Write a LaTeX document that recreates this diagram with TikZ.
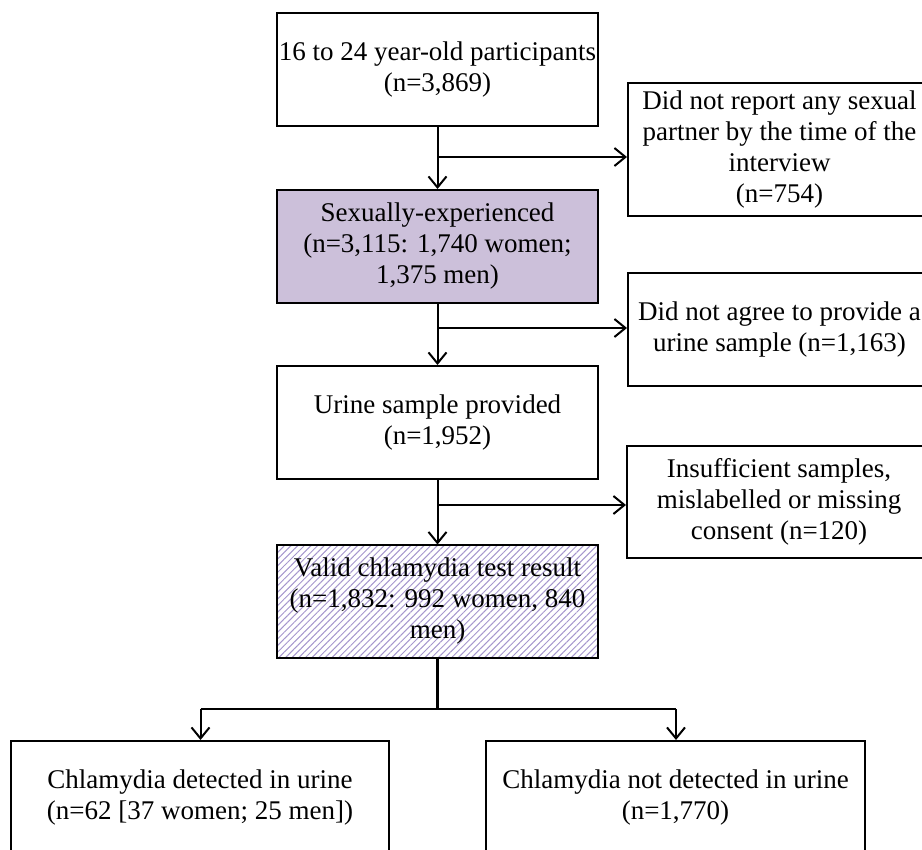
\documentclass[tikz,border=0pt]{standalone}
\usepackage{fontspec}
\setmainfont{Liberation Serif}
\usetikzlibrary{arrows.meta,patterns.meta}
\definecolor{lavender}{RGB}{204,192,218}
\definecolor{hatchcol}{RGB}{165,150,205}
\tikzset{
  box/.style={draw=black, line width=2pt, align=center, inner sep=0pt,
    font=\fontsize{27}{31}\selectfont},
  link/.style={line width=2pt},
  arr/.style={line width=2pt, -{Straight Barb[length=11pt,width=18pt,line width=2pt]}},
}
\begin{document}
\begin{tikzpicture}[x=1pt,y=-1pt]
\useasboundingbox (0,0) rectangle (922,850);
% main column
\node[box, minimum width=321pt, minimum height=113pt] (b1) at (437.5,69.5)
  {16 to 24 year-old participants\\(n=3,869)};
\node[box, fill=lavender, minimum width=321pt, minimum height=113pt] (b2) at (437.5,246.5)
  {Sexually-experienced\\(n=3,115: 1,740 women;\\1,375 men)};
\node[box, minimum width=321pt, minimum height=113pt] (b3) at (437.5,422.5)
  {Urine sample provided\\(n=1,952)};
\node[box, pattern={Lines[angle=45,distance=4.7pt,line width=1pt]}, pattern color=hatchcol,
  minimum width=321pt, minimum height=113pt] (b4) at (437.5,601.5) {};
\node[font=\fontsize{27}{31}\selectfont, align=center] (b4t) at (b4.center)
  {Valid chlamydia test result\\(n=1,832: 992 women, 840\\men)};
% right column
\node[box, minimum width=303pt, minimum height=133pt] (r1) at (779.5,149.5)
  {Did not report any sexual\\partner by the time of the\\interview\\(n=754)};
\node[box, minimum width=303pt, minimum height=113pt] (r2) at (779.5,329.5)
  {Did not agree to provide a\\urine sample (n=1,163)};
\node[box, minimum width=304pt, minimum height=112pt] (r3) at (779,502)
  {Insufficient samples,\\mislabelled or missing\\consent (n=120)};
% bottom
\node[box, minimum width=378pt, minimum height=114pt] (d1) at (200,798)
  {Chlamydia detected in urine\\(n=62 [37 women; 25 men])};
\node[box, minimum width=379pt, minimum height=114pt] (d2) at (675.5,798)
  {Chlamydia not detected in urine\\(n=1,770)};
% connectors
\coordinate (j1) at (437.5,157);
\coordinate (j2) at (437.5,328);
\coordinate (j3) at (437.5,505);
\coordinate (j4) at (437.5,709);
\coordinate (jl) at (200.5,709);
\coordinate (jr) at (676,709);
\draw[arr] (b1.south) -- (b2.north);
\draw[arr] (j1) -- (j1 -| r1.west);
\draw[arr] (b2.south) -- (b3.north);
\draw[arr] (j2) -- (j2 -| r2.west);
\draw[arr] (b3.south) -- (b4.north);
\draw[arr] (j3) -- (j3 -| r3.west);
\draw[link, line width=2.5pt] (b4.south) -- (j4);
\draw[link, line width=2.5pt] (jl) -- (jr);
\draw[arr] (jl) -- (jl |- d1.north);
\draw[arr] (jr) -- (jr |- d2.north);
\end{tikzpicture}
\end{document}
